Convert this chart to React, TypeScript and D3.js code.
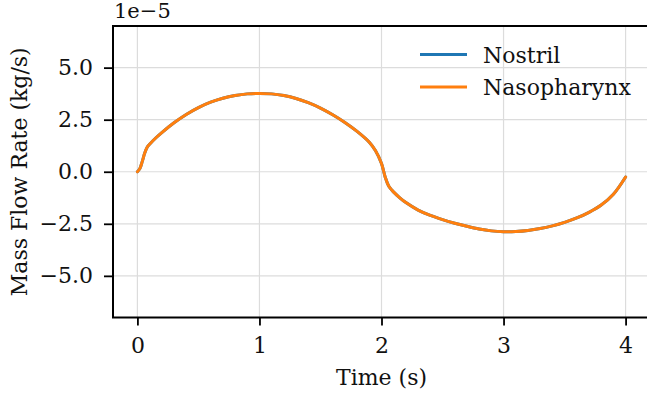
import { useEffect, useRef } from "react";
import * as d3 from "d3";

// time (s)
const time = [0, 0.02, 0.04, 0.06, 0.08, 0.1, 0.15, 0.2, 0.3, 0.4, 0.5, 0.6, 0.7, 0.8, 0.9, 1.0,
  1.1, 1.2, 1.3, 1.4, 1.5, 1.6, 1.7, 1.8, 1.9, 1.95, 2.0, 2.03, 2.06, 2.1, 2.15, 2.2, 2.3, 2.4,
  2.5, 2.6, 2.7, 2.8, 2.9, 3.0, 3.1, 3.2, 3.3, 3.4, 3.5, 3.6, 3.7, 3.8, 3.9, 4.0];

// mass flow rate, in units of 1e-5 kg/s
const nostril = [0, 0.15, 0.5, 0.9, 1.18, 1.32, 1.62, 1.88, 2.35, 2.75, 3.08, 3.34, 3.53, 3.66,
  3.74, 3.76, 3.74, 3.66, 3.52, 3.32, 3.06, 2.74, 2.37, 1.94, 1.42, 1.02, 0.4, -0.25, -0.7, -0.98,
  -1.25, -1.48, -1.84, -2.1, -2.3, -2.47, -2.62, -2.75, -2.84, -2.88, -2.87, -2.82, -2.73, -2.6,
  -2.43, -2.22, -1.95, -1.6, -1.08, -0.25];
const nasopharynx = [0, 0.15, 0.5, 0.9, 1.18, 1.32, 1.62, 1.88, 2.35, 2.75, 3.08, 3.34, 3.53, 3.66,
  3.74, 3.76, 3.74, 3.66, 3.52, 3.32, 3.06, 2.74, 2.37, 1.94, 1.42, 1.02, 0.4, -0.25, -0.7, -0.98,
  -1.25, -1.48, -1.84, -2.1, -2.3, -2.47, -2.62, -2.75, -2.84, -2.88, -2.87, -2.82, -2.73, -2.6,
  -2.43, -2.22, -1.95, -1.6, -1.08, -0.25];

const xTicks = [0, 1, 2, 3, 4];
const yTicks = [-5, -2.5, 0, 2.5, 5];
const seriesNames = ["Nostril", "Nasopharynx"];
const seriesColors = ["#1f77b4", "#ff7f0e"];

const W = 647, H = 396;
const FONT = "'DejaVu Serif', serif";

export default function App() {
  const svgRef = useRef<SVGSVGElement>(null);

  useEffect(() => {
    const svg = d3.select(svgRef.current);
    svg.selectAll("*").remove();

    const left = 113, right = 650, top = 26, bottom = 317.5;

    const x = d3.scaleLinear().domain([-0.2, 4.2]).range([left, right]);
    const y = d3.scaleLinear().domain([-7, 7]).range([bottom, top]);

    // grid
    svg.append("g")
      .selectAll("line")
      .data(xTicks)
      .enter()
      .append("line")
      .attr("x1", d => x(d)).attr("x2", d => x(d))
      .attr("y1", top).attr("y2", bottom)
      .attr("stroke", "#dcdcdc").attr("stroke-width", 1.2);
    svg.append("g")
      .selectAll("line")
      .data(yTicks)
      .enter()
      .append("line")
      .attr("x1", left).attr("x2", right)
      .attr("y1", d => y(d)).attr("y2", d => y(d))
      .attr("stroke", "#dcdcdc").attr("stroke-width", 1.2);

    // series
    const line = d3.line<number>()
      .x((d, i) => x(time[i]))
      .y(d => y(d))
      .curve(d3.curveCatmullRom.alpha(0.5));

    [nostril, nasopharynx].forEach((vals, k) => {
      svg.append("path")
        .datum(vals)
        .attr("d", line)
        .attr("fill", "none")
        .attr("stroke", seriesColors[k])
        .attr("stroke-width", 3)
        .attr("stroke-linecap", "round")
        .attr("stroke-linejoin", "round");
    });

    // axes
    const fmtY = (d: number) => (d < 0 ? "\u2212" : "") + Math.abs(d).toFixed(1);

    const xAxis = svg.append("g")
      .attr("transform", `translate(0,${bottom})`)
      .call(d3.axisBottom(x).tickValues(xTicks).tickFormat(d3.format("d")).tickSize(8).tickPadding(12));
    const yAxis = svg.append("g")
      .attr("transform", `translate(${left},0)`)
      .call(d3.axisLeft(y).tickValues(yTicks).tickFormat(d => fmtY(d as number)).tickSize(9).tickPadding(11));

    [xAxis, yAxis].forEach(ax => {
      ax.attr("font-family", FONT).attr("font-size", 22);
      ax.select(".domain").remove();
      ax.selectAll(".tick line").attr("stroke", "#000").attr("stroke-width", 1.8);
      ax.selectAll(".tick text")
        .attr("fill", "#111")
        .style("font-family", FONT)
        .style("font-size", "22px");
    });

    // spines (left, top, bottom)
    svg.append("path")
      .attr("d", `M${right},${top}H${left}V${bottom}H${right}`)
      .attr("fill", "none")
      .attr("stroke", "#000")
      .attr("stroke-width", 2);

    // offset text
    svg.append("text")
      .attr("x", left + 1).attr("y", 18)
      .style("font-family", FONT).style("font-size", "21px")
      .attr("fill", "#111")
      .text("1e\u22125");

    // axis labels
    svg.append("text")
      .attr("x", (left + right) / 2).attr("y", 385)
      .attr("text-anchor", "middle")
      .style("font-family", FONT).style("font-size", "22px")
      .attr("fill", "#111")
      .text("Time (s)");
    svg.append("text")
      .attr("transform", `translate(27,${(top + bottom) / 2}) rotate(-90)`)
      .attr("text-anchor", "middle")
      .style("font-family", FONT).style("font-size", "22px")
      .attr("fill", "#111")
      .text("Mass Flow Rate (kg/s)");

    // legend
    const legend = svg.append("g");
    legend.selectAll("g")
      .data(seriesNames)
      .enter()
      .append("g")
      .attr("transform", (d, i) => `translate(420,${54.5 + i * 32.4})`)
      .each(function (d, i) {
        const g = d3.select(this);
        g.append("line")
          .attr("x1", 0).attr("x2", 47)
          .attr("stroke", seriesColors[i]).attr("stroke-width", 3);
        g.append("text")
          .attr("x", 63).attr("y", 8)
          .style("font-family", FONT).style("font-size", "22px")
          .attr("fill", "#111")
          .text(d);
      });
  }, []);

  return (
    <svg ref={svgRef} width={W} height={H}
      style={{ position: "absolute", left: 0, top: 0, background: "#fff" }} />
  );
}
